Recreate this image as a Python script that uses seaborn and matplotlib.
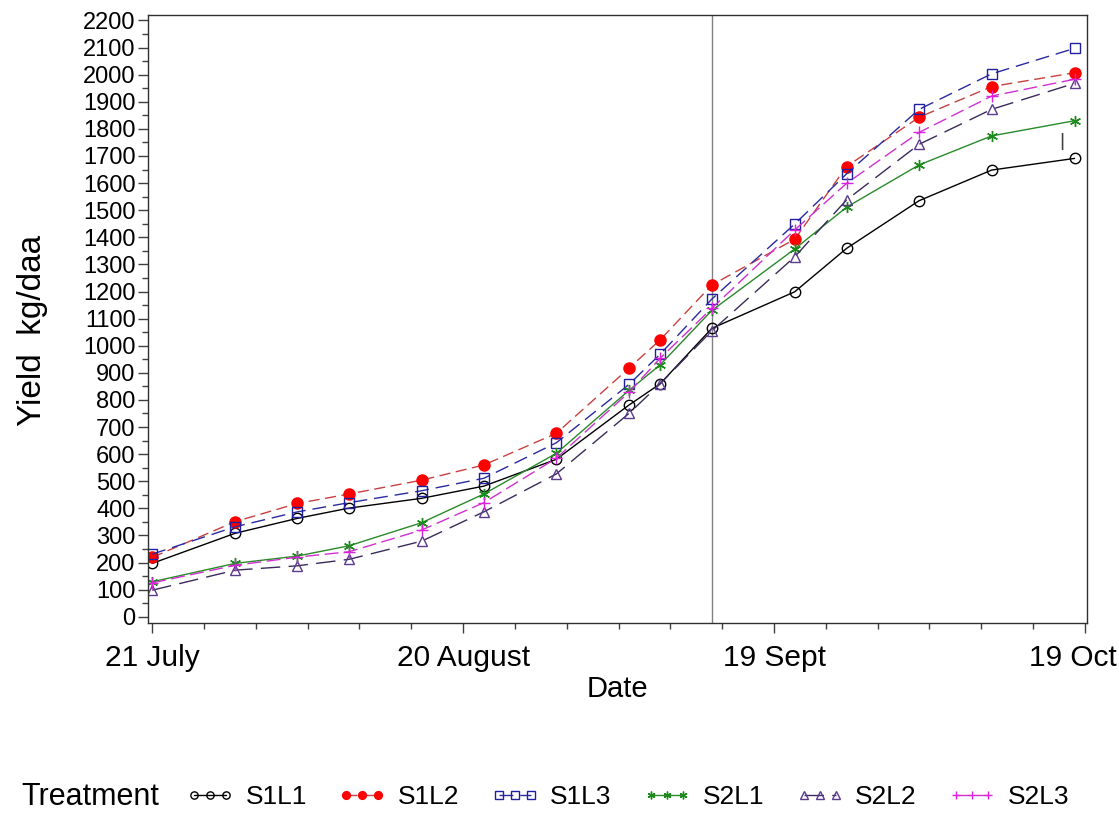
import matplotlib
matplotlib.use("Agg")
import matplotlib.pyplot as plt
import matplotlib.transforms as mtransforms
from matplotlib.ticker import MultipleLocator
import seaborn as sns

# =====================================
#   Datos (dias desde 21 julio)
# =====================================

dias = [0, 8, 14, 19, 26, 32, 39, 46, 49, 54, 62, 67, 74, 81, 89]

s1l1 = [197, 308, 363, 401, 437, 482, 581, 781, 859, 1064, 1199, 1359, 1535, 1648, 1691]
s1l2 = [219, 351, 418, 453, 504, 560, 677, 917, 1021, 1224, 1393, 1661, 1843, 1956, 2007]
s1l3 = [231, 332, 387, 421, 465, 511, 642, 857, 968, 1172, 1449, 1634, 1872, 2003, 2097]
s2l1 = [129, 197, 224, 262, 347, 453, 603, 835, 929, 1130, 1357, 1511, 1667, 1774, 1830]
s2l2 = [98, 172, 188, 212, 279, 387, 527, 750, 859, 1055, 1328, 1538, 1743, 1872, 1968]
s2l3 = [125, 190, 220, 240, 320, 421, 585, 828, 953, 1138, 1427, 1599, 1787, 1921, 1983]

tratamientos = ["S1L1", "S1L2", "S1L3", "S2L1", "S2L2", "S2L3"]
series = [s1l1, s1l2, s1l3, s2l1, s2l2, s2l3]

dia_corte = 54
tick_dias = [0, 30, 60, 90]
tick_fechas = ["21 July", "20 August", "19 Sept", "19 Oct"]

# estilo de cada tratamiento
colores = ["black", "#ff0000", "#1f1f9f", "#1a8a1a", "#5a3a8c", "#e020e0"]
colores_linea = ["black", "#c84040", "#2a2aa0", "#2a8a2a", "#3a2a5a", "#d030d0"]
marcadores = ["o", "o", "s", (6, 2, 0), "^", "+"]
tamanos = [7.5, 8, 7.5, 8, 7.5, 9]
relleno = ["none", "#ff0000", "none", "none", "none", "none"]
lineas = ["-", (0, (8, 4)), (0, (10, 5)), "-", (0, (14, 6)), (0, (10, 4))]

# =====================================
#   Grafica
# =====================================

sns.set_theme(style="white")
plt.rcParams["font.family"] = ["Liberation Sans", "DejaVu Sans"]
plt.rcParams["text.color"] = "black"
plt.rcParams["axes.labelcolor"] = "black"
plt.rcParams["xtick.color"] = "black"
plt.rcParams["ytick.color"] = "black"

fig = plt.figure(figsize=(11.19, 8.16), dpi=100)
ax = fig.add_axes([0.1323, 0.2365, 0.8391, 0.7451])

for nombre, valores, c, cl, m, t, fc, ls in zip(tratamientos, series, colores, colores_linea,
                                                marcadores, tamanos, relleno, lineas):
    sns.lineplot(x=dias, y=valores, ax=ax, color=cl, linestyle=ls, linewidth=1,
                 marker=m, markersize=t, markerfacecolor=fc, markeredgecolor=c,
                 markeredgewidth=1, label=nombre)

ax.axvline(dia_corte, color="#808080", linewidth=1, zorder=0)
ax.text(87.8, 1755, "|", ha="center", va="center", fontsize=14, color="#404040")

ax.set_xlim(-0.4, 90.2)
ax.set_ylim(-23, 2220)
ax.set_xticks(tick_dias)
ax.set_xticklabels(tick_fechas)
ax.xaxis.set_minor_locator(MultipleLocator(5))
ax.yaxis.set_major_locator(MultipleLocator(100))
ax.yaxis.set_minor_locator(MultipleLocator(50))
ax.tick_params(axis="both", which="major", direction="out", length=7, width=1,
               color="#404040", bottom=True, left=True)
ax.tick_params(axis="both", which="minor", direction="out", length=4, width=1,
               color="#404040", bottom=True, left=True)
ax.tick_params(axis="y", labelsize=17, pad=2)
ax.tick_params(axis="x", labelsize=21.5, pad=8)
for lado in ax.spines.values():
    lado.set_color("#303030")
    lado.set_linewidth(1)

# correr la ultima fecha a la izquierda para que quepa
etiquetas_x = ax.get_xticklabels()
etiquetas_x[-1].set_transform(etiquetas_x[-1].get_transform() +
                              mtransforms.ScaledTranslation(-0.12, 0, fig.dpi_scale_trans))

ax.set_xlabel("Date", fontsize=21, labelpad=2)
ax.set_ylabel("Yield  kg/daa", fontsize=24)
ax.yaxis.set_label_coords(-0.107, 0.482)

manijas, etiquetas = ax.get_legend_handles_labels()
ax.legend_.remove()
fig.text(21 / 1119, 0.023, "Treatment", fontsize=22, va="center", ha="left")
fig.legend(manijas, etiquetas, loc="center left", bbox_to_anchor=(186 / 1119, 0.023),
           ncol=6, frameon=False, fontsize=19, numpoints=3, handlelength=1.8,
           handletextpad=0.45, columnspacing=1.2, markerscale=0.7,
           borderpad=0, borderaxespad=0)

plt.savefig("out.png", dpi=100)
